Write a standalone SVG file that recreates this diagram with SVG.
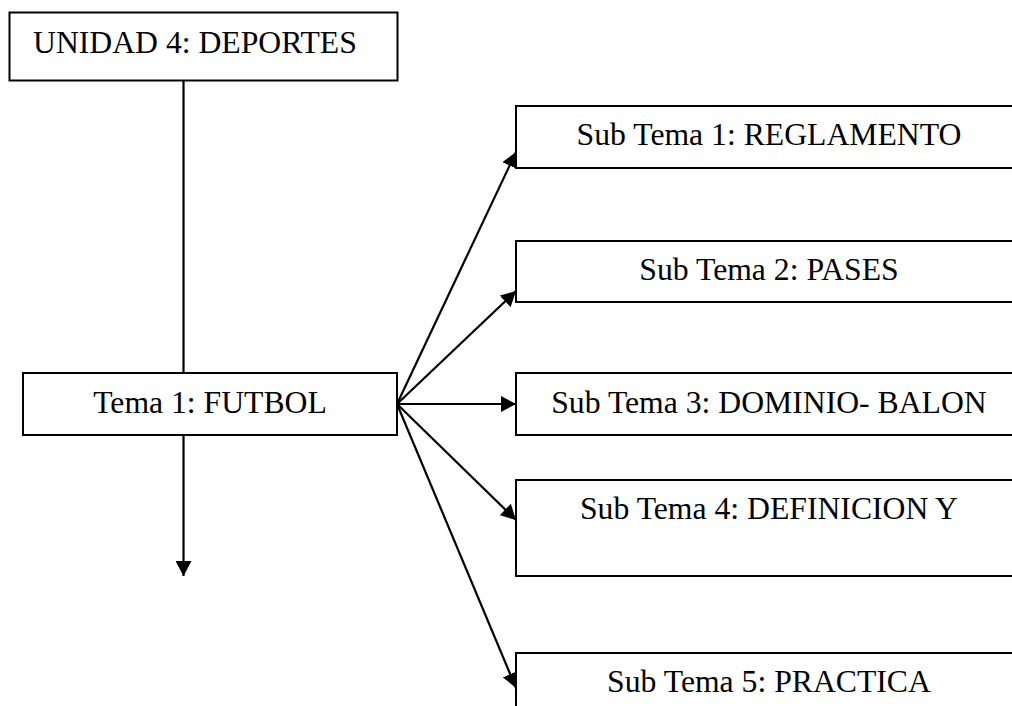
<svg xmlns="http://www.w3.org/2000/svg" width="1012" height="706" viewBox="0 0 1012 706">
<style>
.box{fill:#fff;stroke:#000;stroke-width:2}
.lbl{font-family:"Liberation Serif","Times New Roman",serif;font-size:31.7px;fill:#000}
.c{text-anchor:middle}
.ln{stroke:#000;stroke-width:2.2;fill:none}
</style>
<defs>
<marker id="ah" markerUnits="userSpaceOnUse" markerWidth="15" markerHeight="16" refX="15" refY="8" orient="auto">
<path d="M0,0 L15,8 L0,16 z" fill="#000"/>
</marker>
</defs>
<rect width="1012" height="706" fill="#fff"/>
<g id="connectors">
<line class="ln" x1="183.5" y1="80" x2="183.5" y2="373"/>
<line class="ln" x1="183.5" y1="435" x2="183.5" y2="576" marker-end="url(#ah)"/>
<line class="ln" x1="397" y1="404" x2="516" y2="152" marker-end="url(#ah)"/>
<line class="ln" x1="397" y1="404" x2="516" y2="291" marker-end="url(#ah)"/>
<line class="ln" x1="397" y1="404" x2="516" y2="404" marker-end="url(#ah)"/>
<line class="ln" x1="397" y1="404" x2="516" y2="520" marker-end="url(#ah)"/>
<line class="ln" x1="397" y1="404" x2="516" y2="688" marker-end="url(#ah)"/>
</g>
<g id="unidad">
<rect class="box" x="9.5" y="12.5" width="388" height="68"/>
<text class="lbl" x="33" y="53">UNIDAD 4: DEPORTES</text>
</g>
<g id="tema1">
<rect class="box" x="23" y="373" width="374" height="62"/>
<text class="lbl c" x="210" y="413">Tema 1: FUTBOL</text>
</g>
<g id="sub1">
<rect class="box" x="516" y="106" width="510" height="62"/>
<text class="lbl c" x="769" y="145">Sub Tema 1: REGLAMENTO</text>
</g>
<g id="sub2">
<rect class="box" x="516" y="241" width="510" height="61"/>
<text class="lbl c" x="769" y="280">Sub Tema 2: PASES</text>
</g>
<g id="sub3">
<rect class="box" x="516" y="373" width="510" height="62"/>
<text class="lbl c" x="769" y="413">Sub Tema 3: DOMINIO- BALON</text>
</g>
<g id="sub4">
<rect class="box" x="516" y="480" width="510" height="96"/>
<text class="lbl c" x="769" y="519">Sub Tema 4: DEFINICION Y</text>
</g>
<g id="sub5">
<rect class="box" x="516" y="653" width="510" height="96"/>
<text class="lbl c" x="769" y="692">Sub Tema 5: PRACTICA</text>
</g>
</svg>
